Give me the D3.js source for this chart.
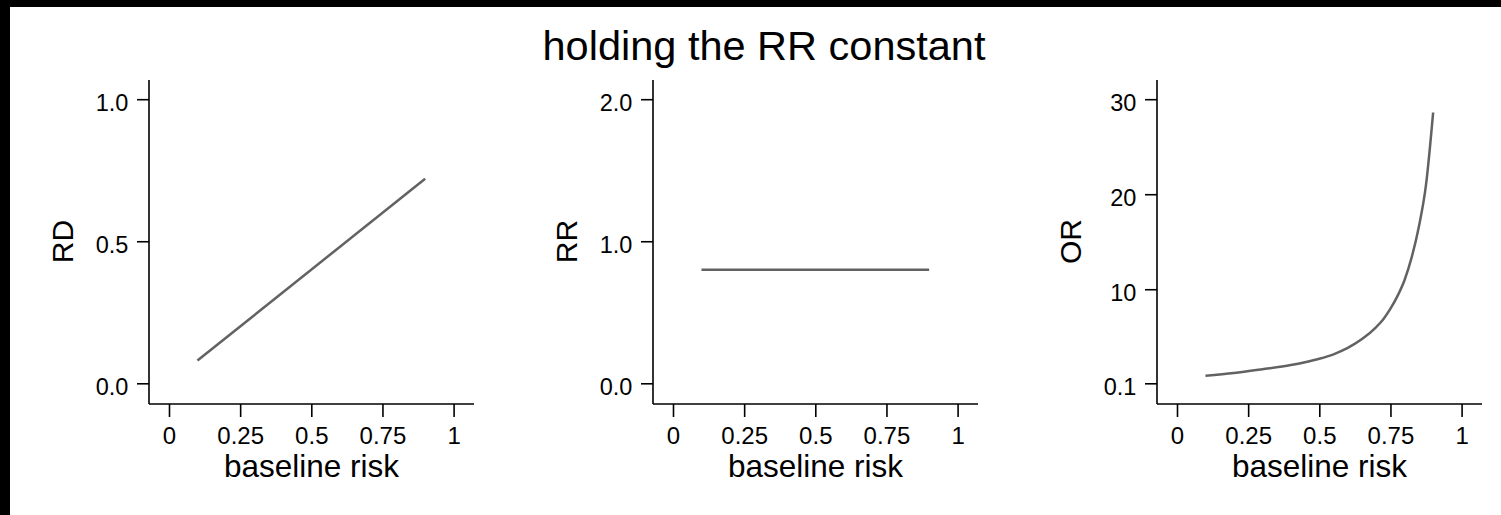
<!DOCTYPE html>
<html>
<head>
<meta charset="utf-8">
<script src="https://cdn.jsdelivr.net/npm/d3@7"></script>
<style>
  html, body { margin: 0; padding: 0; background: #fff; }
  svg { display: block; }
  text { font-family: "Liberation Sans", Arial, Helvetica, sans-serif; fill: #000; }
</style>
</head>
<body>
<svg id="chart" width="1501" height="515"></svg>
<script>
// Baseline risk values (shared x for all panels)
const baselineRisk = [0.1, 0.9];
const rdValues = [0.08, 0.72];
const rrValues = [0.8, 0.8];
const orRisk   = [0.1, 0.2, 0.3, 0.4, 0.45, 0.5, 0.55, 0.6, 0.65, 0.7, 0.725, 0.75, 0.775, 0.8, 0.825, 0.85, 0.875, 0.9];
const orValues = [0.89, 1.18, 1.58, 2.02, 2.32, 2.68, 3.15, 3.82, 4.75, 6.02, 6.85, 7.95, 9.3, 11.0, 13.4, 16.6, 21.0, 28.6];

const xTicks = [0, 0.25, 0.5, 0.75, 1];
const xTickLabels = ["0", "0.25", "0.5", "0.75", "1"];

const panels = [
  { label: "RD", x: baselineRisk, y: rdValues, domain: [0, 1],   ticks: [0, 0.5, 1],       tickLabels: ["0.0", "0.5", "1.0"] },
  { label: "RR", x: baselineRisk, y: rrValues, domain: [0, 2],   ticks: [0, 1, 2],         tickLabels: ["0.0", "1.0", "2.0"] },
  { label: "OR", x: orRisk,       y: orValues, domain: [0.1, 30], ticks: [0.1, 10, 20, 30], tickLabels: ["0.1", "10", "20", "30"] }
];

const titleText = "holding the RR constant";

const svg = d3.select("#chart");

// frame edges
svg.append("rect").attr("x", 0).attr("y", 0).attr("width", 1501).attr("height", 7).attr("fill", "#000");
svg.append("rect").attr("x", 0).attr("y", 0).attr("width", 10).attr("height", 515).attr("fill", "#000");

svg.append("text")
  .attr("x", 764).attr("y", 60)
  .attr("text-anchor", "middle")
  .style("font-size", "41.5px")
  .text(titleText);

const panelStep = 504;
const axisTop = 80, axisBottom = 404, axisWidth = 325;

panels.forEach((p, i) => {
  const left = 149 + panelStep * i;
  const g = svg.append("g");

  const x = d3.scaleLinear().domain([0, 1]).range([left + 20, left + 304.6]);
  const y = d3.scaleLinear().domain(p.domain).range([383.3, 99.2]);

  // axis lines
  g.append("line")
    .attr("x1", left).attr("x2", left)
    .attr("y1", axisTop).attr("y2", axisBottom)
    .attr("stroke", "#000").attr("stroke-width", 1.6);
  g.append("line")
    .attr("x1", left).attr("x2", left + axisWidth)
    .attr("y1", axisBottom).attr("y2", axisBottom)
    .attr("stroke", "#000").attr("stroke-width", 1.6);

  // x axis
  const xAxis = d3.axisBottom(x)
    .tickValues(xTicks)
    .tickSize(13)
    .tickPadding(8)
    .tickFormat((d, k) => xTickLabels[k]);
  const gx = g.append("g").attr("transform", `translate(0,${axisBottom})`).call(xAxis);
  gx.select(".domain").remove();
  gx.selectAll(".tick line").attr("stroke", "#000").attr("stroke-width", 1.6);
  gx.selectAll(".tick text")
    .attr("dy", null).attr("y", 39.5)
    .style("font-size", "24px").style("font-family", "Liberation Sans, Arial, sans-serif").attr("fill", "#000");

  // y axis
  const yAxis = d3.axisLeft(y)
    .tickValues(p.ticks)
    .tickSize(12)
    .tickPadding(8.7)
    .tickFormat((d, k) => p.tickLabels[k]);
  const gy = g.append("g").attr("transform", `translate(${left},0)`).call(yAxis);
  gy.select(".domain").remove();
  gy.selectAll(".tick line").attr("stroke", "#000").attr("stroke-width", 1.6);
  gy.selectAll(".tick text")
    .attr("dy", "0.42em").attr("y", 1.5)
    .style("font-size", "23.5px").style("font-family", "Liberation Sans, Arial, sans-serif").attr("fill", "#000");

  // axis titles
  g.append("text")
    .attr("x", left + axisWidth / 2).attr("y", 476.7)
    .attr("text-anchor", "middle")
    .style("font-size", "31.5px")
    .text("baseline risk");
  g.append("text")
    .attr("transform", `translate(${left - 75.7},${241.5}) rotate(-90)`)
    .attr("text-anchor", "middle")
    .style("font-size", "30px")
    .text(p.label);

  // series line
  const pts = p.x.map((v, k) => [v, p.y[k]]);
  const line = d3.line()
    .x(d => x(d[0]))
    .y(d => y(d[1]))
    .curve(d3.curveMonotoneX);
  g.append("path")
    .datum(pts)
    .attr("d", line)
    .attr("fill", "none")
    .attr("stroke", "#626262")
    .attr("stroke-width", 2.5);
});
</script>
</body>
</html>
